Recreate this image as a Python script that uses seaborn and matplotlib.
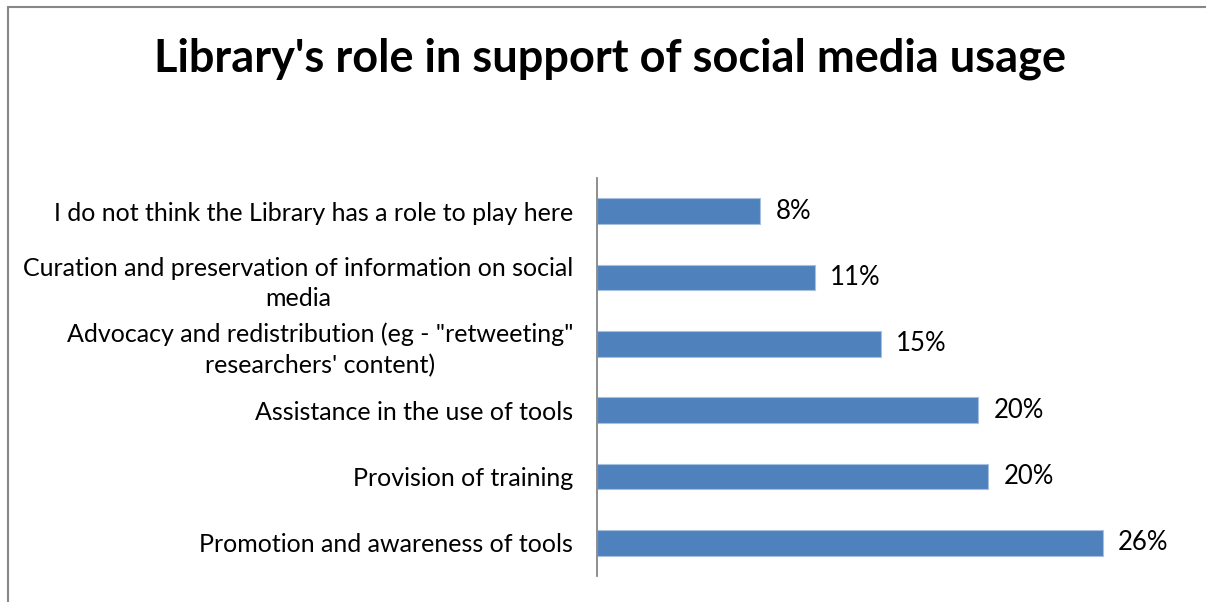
import matplotlib
matplotlib.use("Agg")
import matplotlib.pyplot as plt
from matplotlib.lines import Line2D
import seaborn as sns
import pandas as pd

# Survey responses: share of respondents per library role (percent)
roles = [
    "I do not think the Library has a role to play here",
    "Curation and preservation of information on social\nmedia",
    "Advocacy and redistribution (eg - \"retweeting\"\nresearchers' content)",
    "Assistance in the use of tools",
    "Provision of training",
    "Promotion and awareness of tools",
]
shares = [8.4, 11.2, 14.6, 19.6, 20.1, 26.0]

title = "Library's role in support of social media usage"
bar_color = "#4F81BD"

sns.set_theme(style="white")
plt.rcParams["font.family"] = ["Lato", "DejaVu Sans"]

df = pd.DataFrame({"role": roles, "share": shares})

fig = plt.figure(figsize=(12.06, 6.02), dpi=100)
ax = fig.add_axes([0.495, 0.0432, 0.484, 0.661])

sns.barplot(data=df, y="role", x="share", orient="h", color=bar_color,
            width=0.39, saturation=1, edgecolor="#A7C0DE", linewidth=0.8,
            ax=ax)

ax.set_xlim(0, 30)
ax.set_xlabel("")
ax.set_ylabel("")
ax.set_xticks([])
for side in ("top", "right", "bottom"):
    ax.spines[side].set_visible(False)
ax.spines["left"].set_color("#868686")
ax.spines["left"].set_linewidth(1.3)

ax.tick_params(axis="y", length=0, pad=17, labelsize=18, labelcolor="black")
for lbl in ax.get_yticklabels():
    lbl.set_multialignment("center")
    lbl.set_linespacing(1.4)

ax.bar_label(ax.containers[0], labels=[f"{v:.0f}%" for v in shares],
             padding=11, fontsize=18.5, color="black")

fig.text(0.506, 0.902, title, ha="center", va="center",
         fontsize=32.5, fontweight="bold", color="black")

# Outer chart frame (top and left edges)
fig.add_artist(Line2D([0.0066, 1.0], [0.988, 0.988], transform=fig.transFigure,
                      color="#878787", linewidth=1.5))
fig.add_artist(Line2D([0.0066, 0.0066], [0.0, 0.988], transform=fig.transFigure,
                      color="#878787", linewidth=1.5))

fig.savefig("out.png", dpi=100, facecolor="white")
